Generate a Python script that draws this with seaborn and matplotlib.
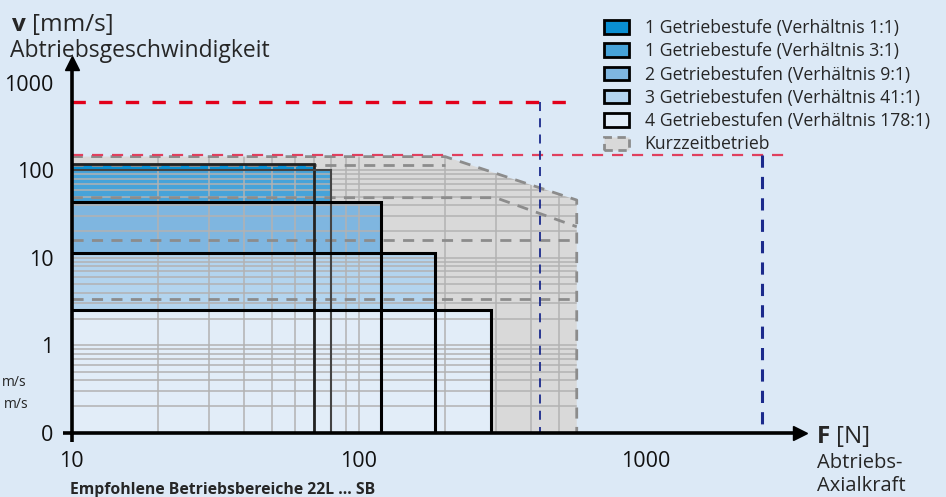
import numpy as np
import pandas as pd
import matplotlib
matplotlib.use("Agg")
import matplotlib.pyplot as plt
import seaborn as sns
from matplotlib.patches import Rectangle, Polygon, Patch

# ---- data ----
ratio_labels = ["1 Getriebestufe (Verhältnis 1:1)",
                "1 Getriebestufe (Verhältnis 3:1)",
                "2 Getriebestufen (Verhältnis 9:1)",
                "3 Getriebestufen (Verhältnis 41:1)",
                "4 Getriebestufen (Verhältnis 178:1)"]
ratio_fmax = [70, 80, 120, 185, 290]          # N
ratio_vmax = [118, 100, 43, 11.4, 2.5]        # mm/s
ratio_colors = ["#0a8fd2", "#47a3d9", "#7fb6e0", "#b3d4ee", "#e2edf8"]

# short-time operation envelope
kz_f = [10, 200, 575, 575, 10]
kz_v = [143, 143, 45.6, 0.1, 0.1]
# short-time limits per ratio (dashed)
kz_lines = {
    "1:1": ([10, 200], [115, 115]),
    "9:1": ([10, 300, 575], [48.5, 48.5, 22.6]),
    "41:1": ([10, 575], [16, 16]),
    "178:1": ([10, 575], [3.4, 3.4]),
}
# limit lines
red_v = [600, 150]
red_fend = [556, 3200]
navy_f = [428, 2535]

v_ticks = [0.1, 1, 10, 100, 1000]
v_ticklabels = ["0", "1", "10", "100", "1000"]
f_ticks = [10, 100, 1000]
f_ticklabels = ["10", "100", "1000"]

BG = "#dce9f6"
W, H = 946, 497

sns.set_theme(style="white")
plt.rcParams["font.family"] = ["Open Sans", "DejaVu Sans"]

fig = plt.figure(figsize=(W / 100, H / 100), dpi=100, facecolor=BG)

x0, x1 = 71.7, 800
y0, y1 = 432.7, 63
dec_x, dec_y = 287.0, 87.5
ax = fig.add_axes([x0 / W, 1 - y0 / H, (x1 - x0) / W, (y0 - y1) / H])
ax.set_facecolor(BG)
ax.set_xscale("log")
ax.set_yscale("log")
ax.set_xlim(10, 10 ** ((x1 - x0) / dec_x + 1))
ax.set_ylim(0.1, 10 ** ((y0 - y1) / dec_y - 1))

# short-time area
kz_poly = Polygon(list(zip(kz_f, kz_v)), closed=True, facecolor="#d9d9d9",
                  edgecolor="none", zorder=1)
ax.add_patch(kz_poly)

# continuous operation areas (fills)
for f, v, c in zip(ratio_fmax, ratio_vmax, ratio_colors):
    ax.add_patch(Rectangle((10, 0.1), f - 10, v - 0.1, facecolor=c,
                           edgecolor="none", zorder=2))

# grid clipped to short-time envelope
grid_v = [m * 10.0 ** e for e in (-1, 0, 1) for m in range(2, 10)] + [1, 10, 100]
grid_f = [m * 10.0 ** e for e in (1, 2) for m in range(2, 10)] + [100]
for gv in grid_v:
    ln = ax.axhline(gv, color="#b2b2b2", lw=1.1, zorder=3)
    ln.set_clip_path(kz_poly)
for gf in grid_f:
    ln = ax.axvline(gf, color="#b2b2b2", lw=1.1, zorder=3)
    ln.set_clip_path(kz_poly)

# short-time dashed lines
dash_kw = dict(color="#8c8c8c", lw=2, dashes=(4, 3))
for name, (fx_, vy) in kz_lines.items():
    df = pd.DataFrame({"F": fx_, "v": vy})
    sns.lineplot(data=df, x="F", y="v", ax=ax, sort=False, estimator=None,
                 zorder=4, **dash_kw)
edge = pd.DataFrame({"F": kz_f[:4], "v": kz_v[:4]})
sns.lineplot(data=edge, x="F", y="v", ax=ax, sort=False, estimator=None,
             zorder=4, **dash_kw)

# outlines of operation areas
edge_cols = ["#222222", "#444444", "black", "black", "black"]
edge_lw = [2.0, 1.5, 2.2, 2.2, 2.2]
for f, v, ec, lw in zip(ratio_fmax, ratio_vmax, edge_cols, edge_lw):
    ax.plot([10, f, f], [v, v, 0.1], color=ec, lw=lw, zorder=5,
            solid_joinstyle="miter")

# red / navy limit lines
ax.plot([10, red_fend[0]], [red_v[0], red_v[0]], color="#e2001a", lw=2.4,
        dashes=(4, 4), zorder=6)
ax.plot([10, red_fend[1]], [red_v[1], red_v[1]], color="#e0405e", lw=1.6,
        dashes=(5, 4), zorder=6, clip_on=False)
ax.plot([navy_f[0], navy_f[0]], [red_v[0], 0.1], color="#1b2a8c", lw=1.3,
        dashes=(5, 4), zorder=6)
ax.plot([navy_f[1], navy_f[1]], [red_v[1], 0.1], color="#1b2a8c", lw=2.2,
        dashes=(4, 3), zorder=6)

# axes styling
for s in ("top", "right"):
    ax.spines[s].set_visible(False)
for s in ("left", "bottom"):
    ax.spines[s].set_color("black")
    ax.spines[s].set_linewidth(2.6)
    ax.spines[s].set_zorder(7)
# small overhang of both axis lines past the origin
ax.plot([10, 10], [0.1, 0.1 * 10 ** (-9 / dec_y)], color="black", lw=2.6,
        clip_on=False, zorder=7, solid_capstyle="butt")
ax.plot([10 * 10 ** (-9 / dec_x), 10], [0.1, 0.1], color="black", lw=2.6,
        clip_on=False, zorder=7, solid_capstyle="butt")
ax.plot(1, 0, ">", color="black", ms=10, transform=ax.transAxes,
        clip_on=False, zorder=8)
ax.plot(0, 1, "^", color="black", ms=10, transform=ax.transAxes,
        clip_on=False, zorder=8)

ax.set_yticks(v_ticks)
ax.set_yticklabels(v_ticklabels)
ax.set_xticks(f_ticks)
ax.set_xticklabels(f_ticklabels)
ax.set_yticks([m * 10.0 ** e for e in (-1, 0, 1, 2) for m in range(2, 10)],
              minor=True)
ax.set_xticks([m * 10.0 ** e for e in (1, 2, 3) for m in range(2, 10)
               if m * 10.0 ** e < 3500], minor=True)
ax.tick_params(axis="both", which="both", direction="out", color="black",
               length=9, width=1.2, labelsize=15.5, pad=4, labelcolor="#111111")
ax.tick_params(axis="x", which="minor", labelbottom=False)
ax.tick_params(axis="y", which="minor", labelleft=False)
ax.set_xlabel("")
ax.set_ylabel("")
ax.grid(False)

# texts
def fx(px):
    return px / W

def fy(py):
    return 1 - py / H

fig.text(fx(12), fy(31), "v", fontsize=17.5, fontweight="bold", va="baseline")
fig.text(fx(32), fy(31), "[mm/s]", fontsize=17.5, va="baseline")
fig.text(fx(10), fy(57), "Abtriebsgeschwindigkeit", fontsize=16.5, va="baseline")
fig.text(fx(817), fy(443), "F", fontsize=17.5, fontweight="bold", va="baseline")
fig.text(fx(836), fy(443), "[N]", fontsize=17.5, va="baseline")
fig.text(fx(817), fy(468), "Abtriebs-", fontsize=14.5, va="baseline")
fig.text(fx(817), fy(491), "Axialkraft", fontsize=14.5, va="baseline")
fig.text(fx(70), fy(494), "Empfohlene Betriebsbereiche 22L ... SB", fontsize=11.3,
         fontweight="bold", va="baseline")
fig.text(fx(2), fy(386), "m/s", fontsize=10, ha="left", va="baseline")
fig.text(fx(4), fy(408), "m/s", fontsize=10, ha="left", va="baseline")

# legend
handles = [Patch(facecolor=c, edgecolor="black", lw=2) for c in ratio_colors]
handles.append(Patch(facecolor="#d9d9d9", edgecolor="#8c8c8c", lw=2,
                     linestyle=(0, (3, 2))))
leg = fig.legend(handles, ratio_labels + ["Kurzzeitbetrieb"],
                 loc="upper left", bbox_to_anchor=(fx(604), fy(19)),
                 frameon=False, fontsize=12.7, handlelength=1.4,
                 handleheight=0.8, handletextpad=0.9, labelspacing=0.3,
                 borderpad=0, borderaxespad=0)

fig.savefig("out.png", dpi=100, facecolor=BG)
